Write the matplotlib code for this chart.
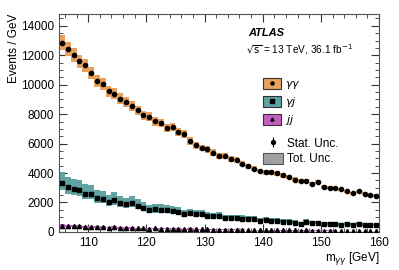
import matplotlib
matplotlib.use('Agg')
import matplotlib.pyplot as plt
import numpy as np
from matplotlib.patches import Patch
from matplotlib.lines import Line2D
from matplotlib.legend_handler import HandlerTuple
from matplotlib.ticker import MultipleLocator

plt.rcParams['font.family'] = ['Liberation Sans', 'DejaVu Sans']

# ── data (1 GeV bins from 105 to 160) ───────────────────────────────────────
bin_lo = np.arange(105, 160)
bin_width = 1.0

yy_vals = [12860, 12420, 11990, 11580, 11310, 10790, 10280, 10050, 9550, 9370,
           9060, 8810, 8560, 8250, 7910, 7820, 7520, 7390, 7050, 7120,
           6820, 6670, 6170, 5880, 5700, 5610, 5390, 5140, 5160, 4980,
           4870, 4640, 4460, 4280, 4140, 4060, 4060, 3970, 3850, 3740,
           3560, 3470, 3450, 3250, 3360, 3060, 3000, 2950, 2890, 2750,
           2640, 2750, 2610, 2480, 2450]
yj_vals = [3290, 3020, 2890, 2840, 2610, 2570, 2320, 2250, 2050, 2160,
           1980, 1870, 1960, 1780, 1640, 1490, 1530, 1510, 1490, 1420,
           1380, 1190, 1260, 1190, 1220, 1100, 1060, 1100, 950, 930,
           930, 910, 860, 860, 770, 840, 770, 770, 700, 700,
           630, 540, 700, 590, 590, 540, 520, 520, 500, 560,
           500, 520, 500, 480, 460]
jj_vals = [430, 400, 380, 390, 350, 340, 360, 320, 300, 310,
           280, 270, 290, 250, 240, 230, 250, 220, 210, 220,
           200, 190, 200, 180, 170, 180, 160, 150, 160, 150,
           140, 150, 130, 130, 120, 125, 115, 110, 115, 105,
           100, 95, 100, 90, 90, 85, 85, 80, 80, 75,
           70, 70, 65, 65, 60]

# relative total uncertainty and shift of the band centre w.r.t. the point
yy_rel_unc, yy_shift = 0.04, 0.0
yj_rel_unc, yj_shift = 0.19, 0.05
jj_rel_unc, jj_shift = 0.2, 0.0

C_YY = '#E8A15C'
C_YJ = '#5FA3A2'
C_JJ = '#C45EC4'


def draw_component(ax, vals, rel_unc, shift, color, marker, ms):
    vals = np.asarray(vals, dtype=float)
    centres = bin_lo + bin_width / 2
    mid = vals * (1 + shift)
    err = vals * rel_unc
    ax.bar(centres, 2 * err, bottom=mid - err, width=bin_width,
           color=color, linewidth=0, zorder=2)
    stat = np.sqrt(vals)
    ax.errorbar(centres, vals, yerr=stat, fmt=marker, color='black',
                ms=ms, elinewidth=0.8, capsize=0, zorder=3)


fig = plt.figure(figsize=(3.99, 2.70), dpi=100)
ax = fig.add_axes([0.148, 0.141, 0.802, 0.807])

draw_component(ax, yy_vals, yy_rel_unc, yy_shift, C_YY, 'o', 3.0)
draw_component(ax, yj_vals, yj_rel_unc, yj_shift, C_YJ, 's', 3.0)
draw_component(ax, jj_vals, jj_rel_unc, jj_shift, C_JJ, '^', 3.0)

ax.set_xlim(105, 160)
ax.set_ylim(0, 14800)
ax.xaxis.set_major_locator(MultipleLocator(10))
ax.xaxis.set_minor_locator(MultipleLocator(2))
ax.yaxis.set_major_locator(MultipleLocator(2000))
ax.yaxis.set_minor_locator(MultipleLocator(500))
ax.tick_params(which='both', direction='in', top=True, right=True,
               labelsize=8.5, colors='#333333', labelcolor='black')
ax.tick_params(which='major', length=6, width=0.8)
ax.tick_params(which='minor', length=3, width=0.6)
for s in ax.spines.values():
    s.set_color('#555555')

ax.set_xlabel(r'm$_{\gamma\gamma}$ [GeV]', fontsize=8.5, loc='right', labelpad=1)
ax.set_ylabel('Events / GeV', fontsize=8.5, loc='top', labelpad=1)

ax.text(0.59, 0.915, 'ATLAS', transform=ax.transAxes, fontsize=8,
        fontweight='bold', fontstyle='italic', va='center')
ax.text(0.585, 0.835, r'$\sqrt{\mathrm{s}}$ = 13 TeV, 36.1 fb$^{-1}$',
        transform=ax.transAxes, fontsize=7.3, va='center')

# ── legends
comp_handles = [
    (Patch(facecolor=C_YY, edgecolor='#333333', linewidth=0.8),
     Line2D([], [], marker='o', color='black', ls='none', ms=2.2)),
    (Patch(facecolor=C_YJ, edgecolor='#333333', linewidth=0.8),
     Line2D([], [], marker='s', color='black', ls='none', ms=2.2)),
    (Patch(facecolor=C_JJ, edgecolor='#333333', linewidth=0.8),
     Line2D([], [], marker='^', color='black', ls='none', ms=2.2)),
]
comp_labels = [r'$\gamma\gamma$', r'$\gamma j$', r'$jj$']
leg1 = ax.legend(comp_handles, comp_labels, loc='upper left',
                 bbox_to_anchor=(0.615, 0.735), frameon=False, fontsize=8,
                 handlelength=1.7, handleheight=1.05, labelspacing=0.35,
                 handletextpad=0.3, borderpad=0.1,
                 handler_map={tuple: HandlerTuple(ndivide=1)})
ax.add_artist(leg1)

unc_handles = [
    (Line2D([], [], marker='|', color='black', ls='none', ms=7, mew=0.8),
     Line2D([], [], marker='o', color='black', ls='none', ms=2.8)),
    Patch(facecolor='#A0A0A0', edgecolor='#555555', linewidth=0.8),
]
ax.legend(unc_handles, ['Stat. Unc.', 'Tot. Unc.'], loc='upper left',
          bbox_to_anchor=(0.615, 0.465), frameon=False, fontsize=8.5,
          handlelength=1.7, handleheight=1.05, labelspacing=0.2,
          handletextpad=0.3, borderpad=0.1,
          handler_map={tuple: HandlerTuple(ndivide=1)})

fig.savefig('out.png', dpi=100)
